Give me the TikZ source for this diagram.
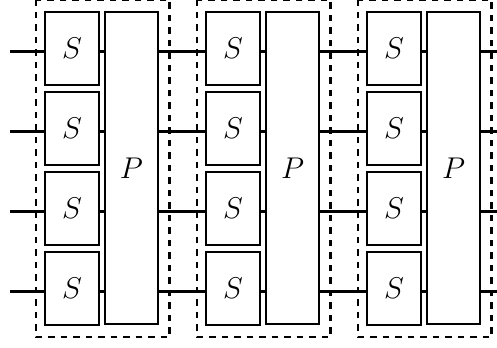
\documentclass[tikz,border=0pt]{standalone}
\usetikzlibrary{calc}

\begin{document}
\begin{tikzpicture}[
  x=0.4pt, y=-0.4pt,
  line width=0.9pt,
  sbox/.style={draw, minimum width=21.6pt, minimum height=29.2pt, inner sep=0pt, font=\large},
  pbox/.style={draw, minimum width=21.2pt, minimum height=124.8pt, inner sep=0pt, font=\large},
  stage/.style={line width=1pt, dash pattern=on 2.6pt off 2.4pt},
]
\useasboundingbox (0,0) rectangle (497,347);
% wire heights, with free ends left and right
\foreach \r in {0,...,3} {
  \coordinate (in\r) at (10,51.5+80*\r);
  \coordinate (out\r) at (497,51.5+80*\r);
}
% three rounds of S boxes and a P box
\foreach \b in {0,1,2} {
  \node[pbox] (p\b) at (131.5+161*\b,168) {$P$};
  \foreach \r in {0,...,3} {
    \node[sbox] (s\b\r) at (72+161*\b,48.5+80*\r) {$S$};
    \draw (s\b\r.east |- in\r) -- (p\b.west |- in\r);
  }
  \draw[stage] ($(s\b0.north west)+(-8,-11.5)$) rectangle ($(p\b.south east)+(10.5,12)$);
}
\foreach \r in {0,...,3} {
  \draw (in\r) -- (s0\r.west |- in\r);
  \draw (p0.east |- in\r) -- (s1\r.west |- in\r);
  \draw (p1.east |- in\r) -- (s2\r.west |- in\r);
  \draw (p2.east |- out\r) -- (out\r);
}
\end{tikzpicture}
\end{document}
